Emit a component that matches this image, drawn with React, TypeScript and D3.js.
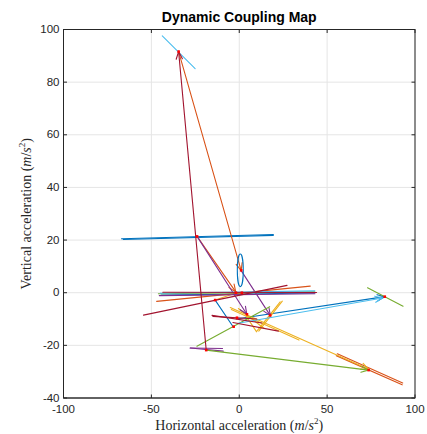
import React from "react";
import * as d3 from "d3";

const W = 427, H = 434;
const xTicks = [-100, -50, 0, 50, 100];
const yTicks = [-40, -20, 0, 20, 40, 60, 80, 100];

// segments: [x1, y1, x2, y2, arrow(0/1)]
const blueSegs = [
  [-67, 20.5, 19.4, 22.1, 0],
  [-66, 20.2, 19.4, 21.8, 0],
  [-1.7, -10, 82.8, -1.5, 1],
  [-13.7, -2.8, -3.3, -13.1, 0],
  [-44.5, -0.9, 43, -0.1, 0],
];
const blueEllipse = [0.6, 8.5, 1.7, 6.2];
const orangeSegs = [
  [-34.5, 91.6, 1.1, 8.4, 1],
  [-24, 21.4, -2, 0.3, 1],
  [-47, -3.3, 40.4, 2.5, 0],
  [55.2, -23.9, 92.7, -35, 0],
  [55.8, -23.2, 93, -34.3, 0],
];
const yellowSegs = [
  [-13.7, -2.8, -4.3, -0.7, 0],
  [-5.1, -5.6, 73.6, -29.1, 1],
  [-4.5, -6.4, 34, -18, 0],
  [24.5, -3.2, 11.1, -14.6, 0],
  [23.3, -3.5, 9.8, -14.8, 0],
  [9.8, -14.8, 4, -9, 0],
  [-0.5, -6, 14, -13.5, 0],
];
const purpleSegs = [
  [-24, 21.4, 4.3, -8.2, 1],
  [1.1, 8.4, 17.7, -8.7, 1],
  [-45.5, -1.1, 43, -0.4, 0],
  [-27.9, -21, -9.1, -22.2, 0],
  [-27.9, -21, -9.5, -21.2, 0],
];
const greenSegs = [
  [-46, -0.4, 43, 0.3, 0],
  [-24.1, -20.3, 17.3, -5.3, 0],
  [-18.8, -21.8, 73.6, -29.4, 1],
  [73, 1.9, 93.2, -5.1, 0],
];
const cyanSegs = [
  [-43.8, 97.6, -25.1, 85.1, 0],
  [-0.6, -11.6, 81.5, -2.0, 1],
  [-45, -0.2, 43, 0.7, 0],
];
const darkredSegs = [
  [-18.8, -21.8, -34.5, 91.6, 1],
  [-54.5, -8.5, 27.2, 2.8, 0],
  [-43.5, 0.2, 44, 0.1, 0],
  [-15.5, -8.6, 12.9, -11.5, 0],
  [-3.6, -11.3, 22.3, -14.6, 0],
  [-15, -9, 10, -10, 0],
];
const redDots = [
  [-34.5, 91.6], [-24, 21.4], [1.1, 8.5], [-1.9, 0], [1.5, 0],
  [-13.7, -2.8], [-3.2, -12.9], [17.6, -8.6], [4.4, -8.2], [-1.3, -9.5],
  [82.8, -1.5], [-18.8, -21.8], [73.6, -29.4],
];

const series = [
  { segs: blueSegs, color: "#0072BD" },
  { segs: orangeSegs, color: "#D95319" },
  { segs: yellowSegs, color: "#EDB120" },
  { segs: purpleSegs, color: "#7E2F8E" },
  { segs: greenSegs, color: "#77AC30" },
  { segs: cyanSegs, color: "#4DBEEE" },
  { segs: darkredSegs, color: "#A2142F" },
];

export default function App() {
  const L = 63.5, R = 415, T = 29.5, B = 398;
  const x = d3.scaleLinear().domain([-100, 100]).range([L, R]);
  const y = d3.scaleLinear().domain([-40, 100]).range([B, T]);
  const font = "Liberation Sans, Arial, Helvetica, sans-serif";
  const serif = "Liberation Serif, Times New Roman, serif";

  const arrow = (x1: number, y1: number, x2: number, y2: number) => {
    const a = Math.atan2(y2 - y1, x2 - x1);
    const len = 8, ang = 0.4;
    const p1 = [x2 - len * Math.cos(a - ang), y2 - len * Math.sin(a - ang)];
    const p2 = [x2 - len * Math.cos(a + ang), y2 - len * Math.sin(a + ang)];
    return `M${p1[0]},${p1[1]}L${x2},${y2}L${p2[0]},${p2[1]}`;
  };

  return (
    <svg width={W} height={H} style={{ position: "absolute", left: 0, top: 0, background: "#fff" }}>
      <rect x={0} y={0} width={W} height={H} fill="#fff" />
      {/* grid */}
      {xTicks.map((t) => (
        <line key={"gx" + t} x1={x(t)} x2={x(t)} y1={T} y2={B} stroke="#e5e5e5" strokeWidth={1} />
      ))}
      {yTicks.map((t) => (
        <line key={"gy" + t} x1={L} x2={R} y1={y(t)} y2={y(t)} stroke="#e5e5e5" strokeWidth={1} />
      ))}
      <defs>
        <clipPath id="clip">
          <rect x={L} y={T} width={R - L} height={B - T} />
        </clipPath>
      </defs>
      <g clipPath="url(#clip)" fill="none" strokeLinecap="round">
        {series.map((s, i) => (
          <g key={i} stroke={s.color} strokeWidth={1.1}>
            {s.segs.map((d, j) => (
              <g key={j}>
                <line x1={x(d[0])} y1={y(d[1])} x2={x(d[2])} y2={y(d[3])} />
                {d[4] ? <path d={arrow(x(d[0]), y(d[1]), x(d[2]), y(d[3]))} /> : null}
              </g>
            ))}
          </g>
        ))}
        <ellipse
          cx={x(blueEllipse[0])}
          cy={y(blueEllipse[1])}
          rx={x(blueEllipse[2]) - x(0)}
          ry={y(0) - y(blueEllipse[3])}
          stroke="#0072BD"
          strokeWidth={1.1}
          fill="none"
        />
        {redDots.map((p, i) => (
          <rect key={"r" + i} x={x(p[0]) - 1.3} y={y(p[1]) - 1.3} width={2.6} height={2.6} fill="#FF0000" stroke="none" />
        ))}
      </g>
      {/* axes box */}
      <rect x={L} y={T} width={R - L} height={B - T} fill="none" stroke="#262626" strokeWidth={1} />
      <line x1={L} x2={R} y1={B} y2={B} stroke="#555" strokeWidth={1.5} />
      {xTicks.map((t) => (
        <g key={"tx" + t}>
          <line x1={x(t)} x2={x(t)} y1={B} y2={B - 3.5} stroke="#262626" />
          <line x1={x(t)} x2={x(t)} y1={T} y2={T + 3.5} stroke="#262626" />
          <text x={x(t)} y={B + 15} textAnchor="middle" fontFamily={font} fontSize={11.5} fill="#262626">
            {t}
          </text>
        </g>
      ))}
      {yTicks.map((t) => (
        <g key={"ty" + t}>
          <line x1={L} x2={L + 3.5} y1={y(t)} y2={y(t)} stroke="#262626" />
          <line x1={R} x2={R - 3.5} y1={y(t)} y2={y(t)} stroke="#262626" />
          <text x={L - 4} y={y(t) + 3.5} textAnchor="end" fontFamily={font} fontSize={11.5} fill="#262626">
            {t}
          </text>
        </g>
      ))}
      <text x={(L + R) / 2} y={22} textAnchor="middle" fontFamily={font} fontWeight="bold" fontSize={14} fill="#000">
        Dynamic Coupling Map
      </text>
      <text x={(L + R) / 2} y={430} textAnchor="middle" fontFamily={serif} fontSize={14} fill="#262626">
        Horizontal acceleration (<tspan fontStyle="italic">m</tspan>/<tspan fontStyle="italic">s</tspan>
        <tspan fontSize={9} dy={-6}>2</tspan>
        <tspan dy={6}>)</tspan>
      </text>
      <text
        transform={`translate(31,${(T + B) / 2}) rotate(-90)`}
        textAnchor="middle"
        fontFamily={serif}
        fontSize={14}
        fill="#262626"
      >
        Vertical acceleration (<tspan fontStyle="italic">m</tspan>/<tspan fontStyle="italic">s</tspan>
        <tspan fontSize={9} dy={-6}>2</tspan>
        <tspan dy={6}>)</tspan>
      </text>
    </svg>
  );
}
